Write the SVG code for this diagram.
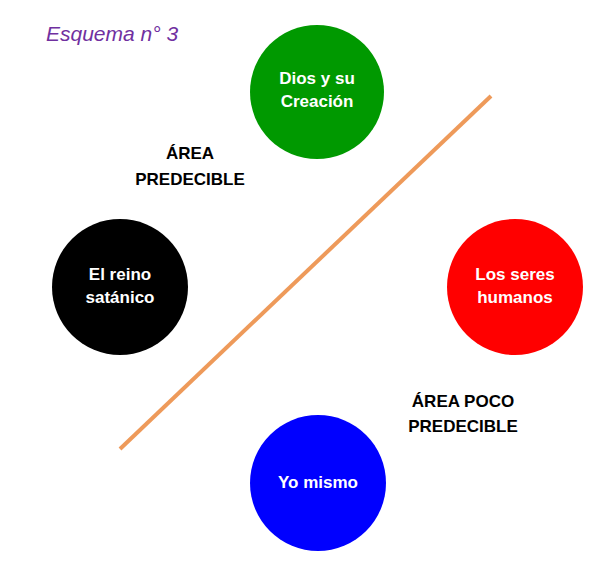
<svg xmlns="http://www.w3.org/2000/svg" width="604" height="565" viewBox="0 0 604 565">
<style>
.n{font-family:"Liberation Sans",Arial,sans-serif;font-weight:bold;font-size:17px;fill:#fff;text-anchor:middle}
.a{font-family:"Liberation Sans",Arial,sans-serif;font-weight:bold;font-size:17px;fill:#000;text-anchor:middle}
</style>
<rect width="604" height="565" fill="#fff"/>
<text x="46" y="41" font-family="Liberation Sans,Arial,sans-serif" font-style="italic" font-size="21" fill="#7030A0">Esquema n° 3</text>
<g id="connectors">
<line x1="120" y1="449" x2="491" y2="96" stroke="#EE9A5A" stroke-width="4"/>
</g>
<g id="dios">
<circle cx="317" cy="92" r="67" fill="#009900"/>
<text class="n" x="317" y="84">Dios y su</text>
<text class="n" x="317" y="107">Creación</text>
</g>
<g id="satanico">
<circle cx="120" cy="287" r="68" fill="#000"/>
<text class="n" x="120" y="280">El reino</text>
<text class="n" x="120" y="303">satánico</text>
</g>
<g id="humanos">
<circle cx="515" cy="287" r="68" fill="#FF0000"/>
<text class="n" x="515" y="280">Los seres</text>
<text class="n" x="515" y="303">humanos</text>
</g>
<g id="yo">
<circle cx="318" cy="483" r="68" fill="#0000FF"/>
<text class="n" x="318" y="488">Yo mismo</text>
</g>
<g id="area1">
<text class="a" x="190" y="159">ÁREA</text>
<text class="a" x="190" y="185">PREDECIBLE</text>
</g>
<g id="area2">
<text class="a" x="463" y="407">ÁREA POCO</text>
<text class="a" x="463" y="432">PREDECIBLE</text>
</g>
</svg>
